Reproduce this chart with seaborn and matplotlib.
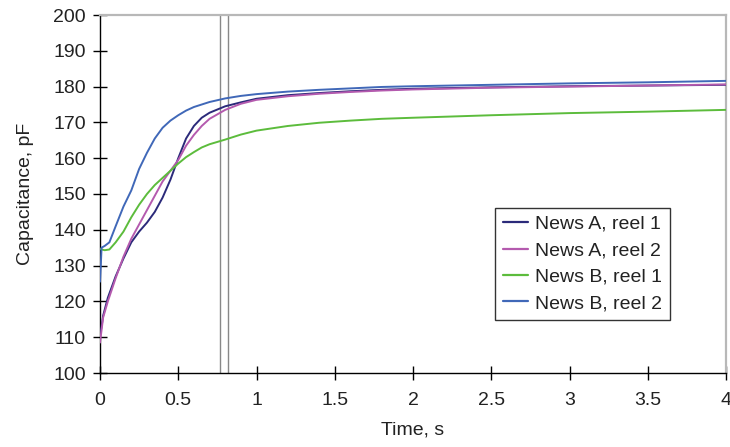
import numpy as np
import pandas as pd
import matplotlib
matplotlib.use("Agg")
import matplotlib.pyplot as plt
import seaborn as sns

t_a1 = [0, 0.01, 0.02, 0.05, 0.1, 0.15, 0.2, 0.25, 0.3, 0.35, 0.4, 0.45, 0.5, 0.55, 0.6, 0.65, 0.7,
        0.8, 0.9, 1.0, 1.2, 1.4, 1.6, 1.8, 2.0, 2.5, 3.0, 3.5, 4.0]
a1 = [110.5, 113, 116, 121, 127, 132, 136.5, 139.5, 142, 145, 149, 154, 160, 165.5, 169, 171.3, 172.7,
      174.5, 175.6, 176.6, 177.6, 178.2, 178.7, 179.1, 179.4, 179.8, 180.1, 180.3, 180.5]

t_a2 = [0, 0.01, 0.02, 0.05, 0.1, 0.15, 0.2, 0.25, 0.3, 0.35, 0.4, 0.45, 0.5, 0.55, 0.6, 0.65, 0.7,
        0.8, 0.9, 1.0, 1.2, 1.4, 1.6, 1.8, 2.0, 2.5, 3.0, 3.5, 4.0]
a2 = [108.5, 112, 115.5, 120, 126.5, 132.5, 137.5, 141.5, 145.5, 149.5, 153.5, 156.5, 159.5, 163.5, 166.5,
      169, 171, 173.5, 175.2, 176.3, 177.3, 178, 178.5, 178.9, 179.2, 179.7, 180, 180.3, 180.6]

t_b1 = [0, 0.01, 0.03, 0.06, 0.1, 0.15, 0.2, 0.25, 0.3, 0.35, 0.4, 0.45, 0.5, 0.55, 0.6, 0.65, 0.7,
        0.8, 0.9, 1.0, 1.2, 1.4, 1.6, 1.8, 2.0, 2.5, 3.0, 3.5, 4.0]
b1 = [134.7, 134.5, 134.3, 134.5, 136.5, 139.5, 143.5, 147, 150, 152.5, 154.5, 156.5, 158.5, 160.3, 161.7,
      163, 163.9, 165.2, 166.6, 167.7, 169, 169.9, 170.5, 171, 171.3, 172, 172.6, 173, 173.5]

t_b2 = [0, 0.005, 0.01, 0.03, 0.06, 0.1, 0.15, 0.2, 0.25, 0.3, 0.35, 0.4, 0.45, 0.5, 0.55, 0.6, 0.65, 0.7,
        0.8, 0.9, 1.0, 1.2, 1.4, 1.6, 1.8, 2.0, 2.5, 3.0, 3.5, 4.0]
b2 = [125.5, 130, 135, 135.5, 136.5, 141, 146.5, 151, 157, 161.5, 165.5, 168.5, 170.5, 172, 173.3, 174.3,
      175, 175.7, 176.7, 177.4, 177.9, 178.6, 179.1, 179.5, 179.9, 180.1, 180.5, 180.9, 181.2, 181.6]

series_names = ["News A, reel 1", "News A, reel 2", "News B, reel 1", "News B, reel 2"]
colors = ["#2b2a7a", "#b45aae", "#5cbc3c", "#4068b8"]
marker_lines = [0.767, 0.818]

frames = []
for name, tt, vv in zip(series_names, [t_a1, t_a2, t_b1, t_b2], [a1, a2, b1, b2]):
    frames.append(pd.DataFrame({"Time": tt, "Cap": vv, "Series": name}))
df = pd.concat(frames, ignore_index=True)

sns.set_theme(style="white")
plt.rcParams["font.family"] = ["Liberation Sans", "DejaVu Sans"]

fig = plt.figure(figsize=(7.3, 4.47), dpi=100)
ax = fig.add_axes([100 / 730, 1 - 373 / 447, 626 / 730, 358 / 447])

for xv in marker_lines:
    ax.axvline(xv, color="#888888", lw=1.0, zorder=1)

sns.lineplot(data=df, x="Time", y="Cap", hue="Series", palette=dict(zip(series_names, colors)),
             hue_order=series_names, lw=1.4, ax=ax, estimator=None, sort=False, zorder=3)

ax.set_xlim(0, 4)
ax.set_ylim(100, 200)
ax.set_xticks(np.arange(0, 4.01, 0.5))
ax.set_xticklabels(["0", "0.5", "1", "1.5", "2", "2.5", "3", "3.5", "4"])
ax.set_yticks(np.arange(100, 201, 10))
ax.tick_params(axis="both", which="major", bottom=True, left=True, top=False, right=False,
               direction="inout", length=10, width=1.0, color="black",
               labelsize=14, labelcolor="#222222")
ax.tick_params(axis="y", pad=5)
ax.tick_params(axis="x", pad=9)

for s in ["left", "bottom"]:
    ax.spines[s].set_color("black")
    ax.spines[s].set_linewidth(1.0)
for s in ["top", "right"]:
    ax.spines[s].set_color("#b8b8b8")
    ax.spines[s].set_linewidth(1.6)

ax.set_xlabel("Time, s", fontsize=14, color="#222222", labelpad=9)
ax.set_ylabel("Capacitance, pF", fontsize=14, color="#222222", labelpad=14)

leg = ax.legend(loc="upper left", bbox_to_anchor=(0.631, 0.462), fontsize=14, frameon=True,
                fancybox=False, edgecolor="black", handlelength=1.3, handletextpad=0.35,
                borderpad=0.4, labelspacing=0.45, borderaxespad=0)
leg.get_frame().set_linewidth(1.0)
for h in leg.get_lines():
    h.set_linewidth(1.6)
for txt in leg.get_texts():
    txt.set_color("#222222")

fig.savefig("out.png", dpi=100)
